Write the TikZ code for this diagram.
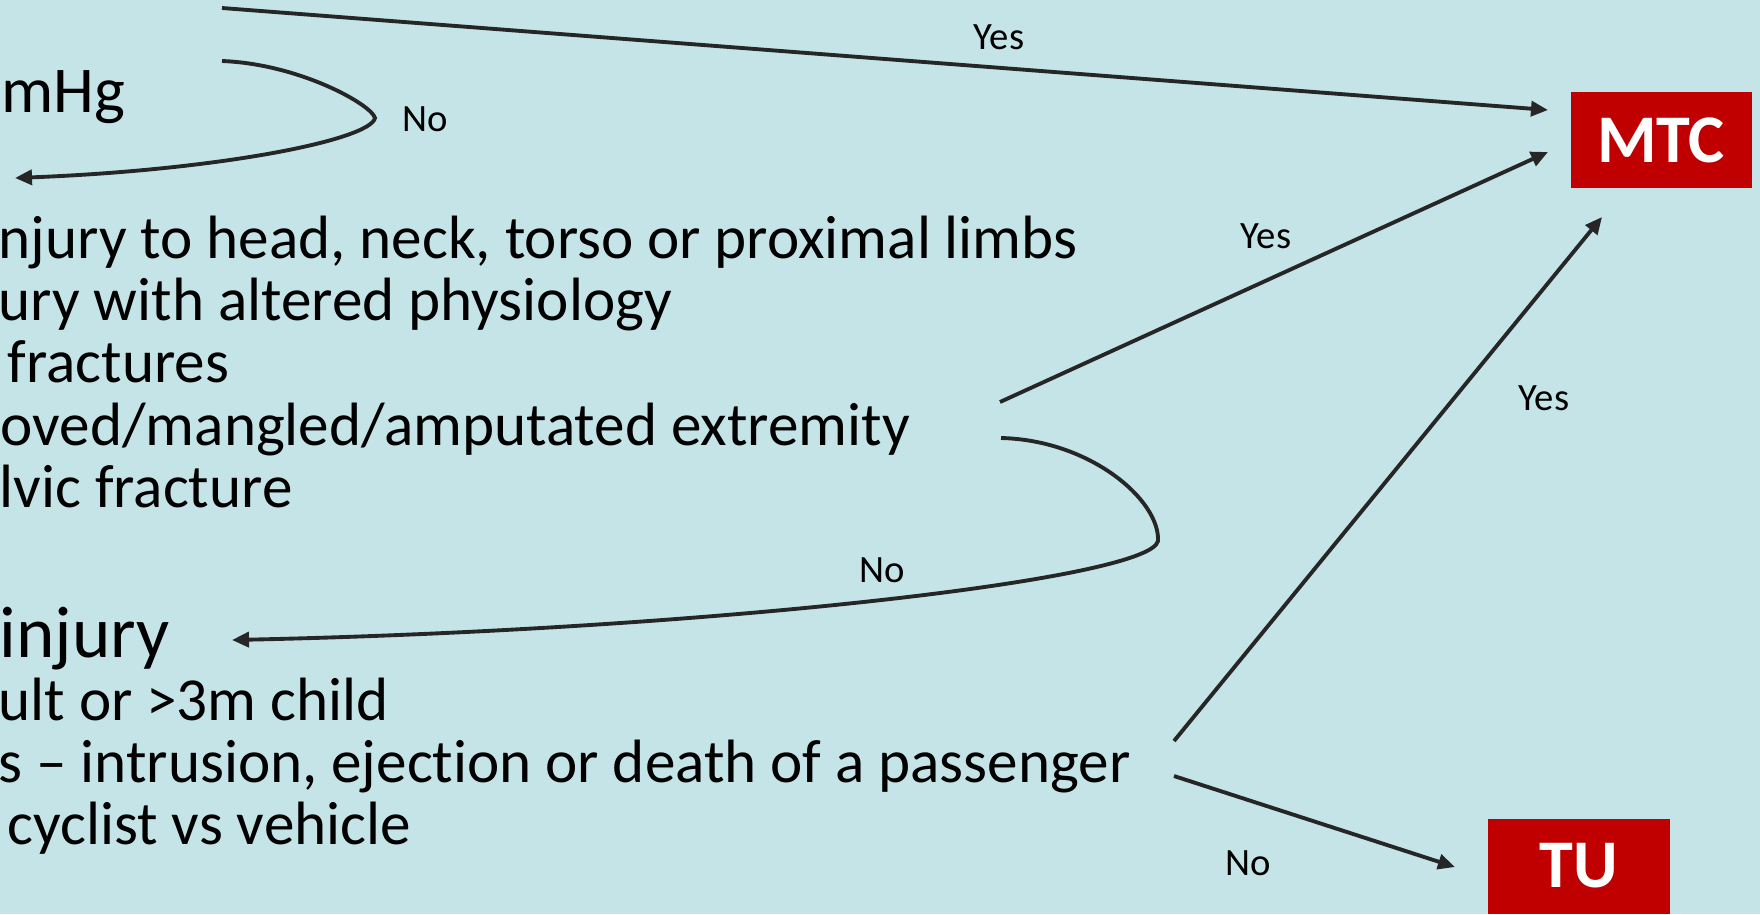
\documentclass[tikz,border=0pt]{standalone}
\usepackage{fontspec}
\setmainfont{Carlito}[Ligatures={TeX,NoCommon}]
\usetikzlibrary{arrows.meta}
\definecolor{bgblue}{RGB}{197,228,232}
\definecolor{boxred}{RGB}{192,0,0}
\definecolor{lineg}{RGB}{38,38,38}
\begin{document}
\begin{tikzpicture}[x=0.1mm,y=-0.1mm]
    \tikzstyle{txt} = [anchor=base west, inner sep=0pt,
    font=\fontsize{17.4}{20}\selectfont];
    \tikzstyle{lab} = [inner sep=0pt, font=\fontsize{11}{13}\selectfont];
    \tikzstyle{rb} = [fill=boxred, text=white, inner sep=0pt,
    font=\bfseries\fontsize{19.4}{23}\selectfont];
    \tikzstyle{ar} = [lineg, line width=1.1pt,
    -{Triangle[length=1.7mm,width=1.5mm]}];

    \useasboundingbox (0,0) rectangle (1760,914);
    \fill[bgblue] (0,0) rectangle (1760,914);

    \node[txt, font=\fontsize{18.6}{22}\selectfont] (bp) at (1,112){mHg};

    \node[txt] (h1) at (-2,258){njury to head, neck, torso or proximal limbs};
    \node[txt] (h2) at (-2,320){ury with altered physiology};
    \node[txt] (h3) at (7,382){fractures};
    \node[txt] (h4) at (0,445){oved/mangled/amputated extremity};
    \node[txt] (h5) at (-1,507){lvic fracture};

    \node[txt, font=\fontsize{20.8}{24}\selectfont] (mi) at (-1,657){injury};
    \node[txt] (m1) at (-2,720){ult or >3m child};
    \node[txt] (m2) at (-2,782){s \textendash{} intrusion, ejection or death of a passenger};
    \node[txt] (m3) at (7,844){cyclist vs vehicle};

    \node[rb, minimum width=18.1mm, minimum height=9.6mm] (mtc) at (1661,140){MTC};
    \node[rb, minimum width=18.2mm, minimum height=9.5mm] (tu) at (1579,866){TU};

    \node[lab] (yes1) at (999,37){Yes};
    \node[lab] (yes2) at (1266,236){Yes};
    \node[lab] (yes3) at (1544,398){Yes};
    \node[lab] (no1) at (425,119){No};
    \node[lab] (no2) at (882,570){No};
    \node[lab] (no3) at (1248,863){No};

    \coordinate (a1) at (222,8);
    \coordinate (a2) at (1000,402);
    \coordinate (a3) at (1174,741);
    \coordinate (a4) at (1174,776);
    \coordinate (e1) at (1548,110);
    \coordinate (e2) at (1548,152);
    \coordinate (e3) at (1602,217);
    \coordinate (e4) at (1455,867);
    \coordinate (b1) at (222,61);
    \coordinate (f1) at (15,178);
    \coordinate (b2) at (1001,438);
    \coordinate (f2) at (232,640);

    \path[ar] (a1) edge (e1)
              (a2) edge (e2)
              (a3) edge (e3)
              (a4) edge (e4);

    \draw[ar] (b1) .. controls (300,64) and (372,105) .. (375,118)
                   .. controls (370,140) and (220,170) .. (f1);
    \draw[ar] (b2) .. controls (1090,440) and (1160,500) .. (1158,541)
                   .. controls (1150,580) and (700,630) .. (f2);

\end{tikzpicture}
\end{document}
